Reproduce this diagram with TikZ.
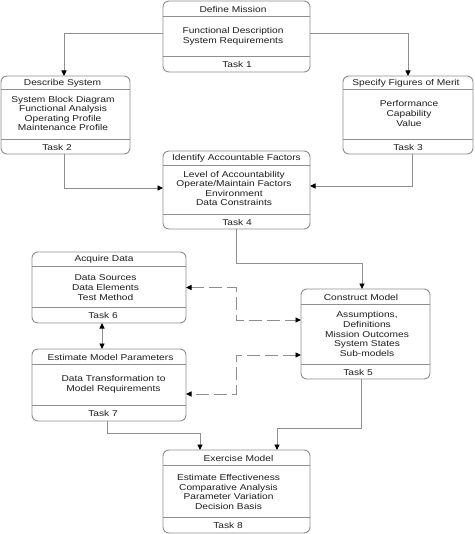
\documentclass[tikz,border=0pt]{standalone}
\usepackage{fontspec}
\setmainfont{Liberation Sans}[FakeStretch=1.2]
\usetikzlibrary{arrows.meta}
\definecolor{lin}{HTML}{8E8E8E}
\definecolor{ink}{HTML}{1E1E1E}
\tikzset{
  box/.style={draw=lin, line width=0.9pt, rounded corners=6pt, inner sep=0pt, outer sep=0pt},
  sepline/.style={draw=lin, line width=0.9pt},
  txt/.style={font=\fontsize{8.5}{9.6}\selectfont, text=ink, align=center, inner sep=0pt},
  tip/.style={-{Triangle[length=5pt,width=5pt]}},
  conn/.style={draw=lin, line width=0.9pt, arrows={-{Triangle[length=5.5pt,width=5pt,color=black]}}},
  bconn/.style={draw=lin, line width=0.9pt, arrows={{Triangle[length=5.5pt,width=5pt,color=black]}-{Triangle[length=5.5pt,width=5pt,color=black]}}},
  dconn/.style={bconn, dash pattern=on 13pt off 5pt}
}
\newcommand\taskframe[7]{%
  \node[box, minimum width={#4-#2}, minimum height={#5-#3}] (#1) at ({(#2+#4)/2},{-(#3+#5)/2}) {};
  \draw[sepline] (#1.west |- 0,-#6) -- (#1.east |- 0,-#6);
  \draw[sepline] (#1.west |- 0,-#7) -- (#1.east |- 0,-#7);
}
\begin{document}
\begin{tikzpicture}[x=1pt,y=1pt]
\useasboundingbox (0,0) rectangle (474,-534);
\fill[white] (0,0) rectangle (474,-534);

% frames
\taskframe{b1}{163}{1}{310}{72}{16}{56}
\taskframe{b2}{1}{76}{130}{154}{89}{139}
\taskframe{b3}{343}{76}{473}{154}{89}{139}
\taskframe{b4}{163}{151}{310}{229}{165}{214}
\taskframe{b6}{32}{252}{186}{323}{266}{307}
\taskframe{b5}{301}{289}{430}{379}{304}{364}
\taskframe{b7}{32}{349}{186}{421}{364}{405}
\taskframe{b8}{163}{450}{310}{533}{465}{517}

% texts
\node[txt] (t1a) at (233,-9) {Define Mission};
\node[txt] (t1b) at (233,-36.5) {Functional Description\\System Requirements};
\node[txt] (t1c) at (237,-64.5) {Task 1};

\node[txt] (t2a) at (62.5,-83) {Describe System};
\node[txt] (t2b) at (63,-113.5) {System Block Diagram\\Functional Analysis\\Operating Profile\\Maintenance Profile};
\node[txt] (t2c) at (57,-147) {Task 2};

\node[txt] (t3a) at (406,-83) {Specify Figures of Merit};
\node[txt] (t3b) at (409,-113.5) {Performance\\Capability\\Value};
\node[txt] (t3c) at (408,-147) {Task 3};

\node[txt] (t4a) at (236.5,-158.5) {Identify Accountable Factors};
\node[txt] (t4b) at (234,-188.5) {Level of Accountability\\Operate/Maintain Factors\\Environment\\Data Constraints};
\node[txt] (t4c) at (237,-222.5) {Task 4};

\node[txt] (t6a) at (104,-259.5) {Acquire Data};
\node[txt] (t6b) at (105.5,-287.5) {Data Sources\\Data Elements\\Test Method};
\node[txt] (t6c) at (103,-315.5) {Task 6};

\node[txt] (t5a) at (361,-297) {Construct Model};
\node[txt] (t5b) at (367,-334) {Assumptions,\\Definitions\\Mission Outcomes\\System States\\Sub-models};
\node[txt] (t5c) at (358,-372) {Task 5};

\node[txt] (t7a) at (110.5,-357) {Estimate Model Parameters};
\node[txt] (t7b) at (113.5,-384) {Data Transformation to\\Model Requirements};
\node[txt] (t7c) at (103,-413.5) {Task 7};

\node[txt] (t8a) at (238.5,-458.5) {Exercise Model};
\node[txt] (t8b) at (228.5,-492) {Estimate Effectiveness\\Comparative Analysis\\Parameter Variation\\Decision Basis};
\node[txt] (t8c) at (228,-525) {Task 8};

% connectors
\draw[conn] ([yshift=3.5]b1.west) -| ([xshift=-1.5]b2.north);
\draw[conn] ([yshift=3.5]b1.east) -| (b3.north);
\draw[conn] ([xshift=-1.5]b2.south) |- ([yshift=2]b4.west);
\draw[conn] ([xshift=4]b3.south) |- ([yshift=4]b4.east);
\draw[conn] (b4.south) -- ++(0,-34) -| ([xshift=-3.5]b5.north);
\draw[dconn] (b6.east) -- ++(50,0) |- ([yshift=14]b5.west);
\draw[dconn] ([yshift=-21]b5.west) -- ++(-65,0) |- ([yshift=-9]b7.east);
\draw[bconn] ([xshift=-7]b6.south) -- ([xshift=-7]b7.north);
\draw[conn] ([xshift=-2]b7.south) -- ++(0,-12) -| ([xshift=-36.5]b8.north);
\draw[conn] ([xshift=-4.5]b5.south) -- ++(0,-49) -| ([xshift=40.5]b8.north);
\end{tikzpicture}
\end{document}
